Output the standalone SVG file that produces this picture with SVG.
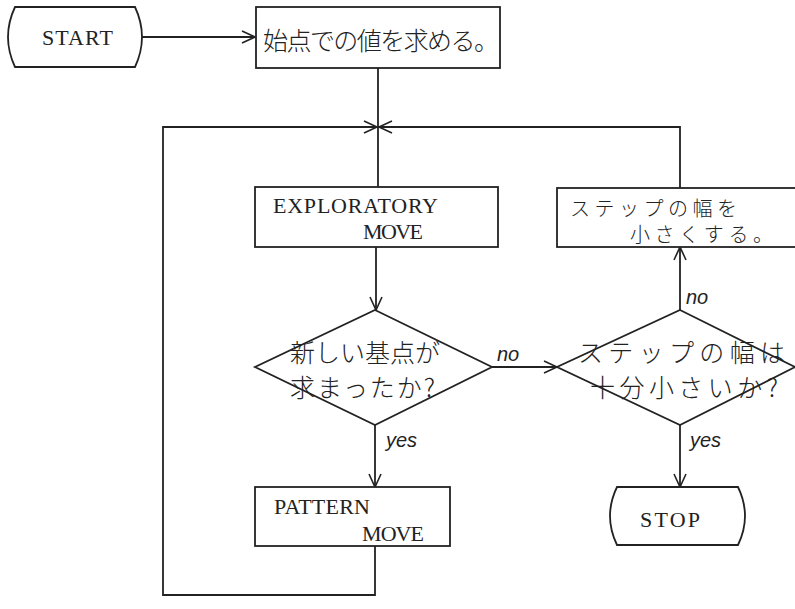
<svg xmlns="http://www.w3.org/2000/svg" width="795" height="609" viewBox="0 0 795 609">
<style>
.s{fill:none;stroke:#222;stroke-width:1.8}
.n{fill:#fff;stroke:#222;stroke-width:1.8}
.t{font-family:"Liberation Serif","DejaVu Serif",serif;font-size:22px;fill:#222}
.j{font-family:"Noto Sans CJK JP",sans-serif;font-size:25px;fill:#222;font-weight:300}
.k{font-family:"Noto Sans CJK JP",sans-serif;font-size:20px;fill:#222;font-weight:300}
.l{font-family:"Liberation Sans",sans-serif;font-style:italic;font-size:20px;fill:#222}
</style>
<defs>
<marker id="a" markerUnits="userSpaceOnUse" markerWidth="16" markerHeight="14" refX="14" refY="7" orient="auto">
<path d="M1,1 L14,7 L1,13" fill="none" stroke="#222" stroke-width="1.6"/>
</marker>
</defs>
<rect width="795" height="609" fill="#fff"/>
<g id="connectors">
<line class="s" x1="142" y1="37" x2="255" y2="37" marker-end="url(#a)"/>
<line class="s" x1="378" y1="68" x2="378" y2="187"/>
<polyline class="s" points="375,546 375,595 163,595 163,127 377,127" marker-end="url(#a)"/>
<polyline class="s" points="680,188 680,127 379,127" marker-end="url(#a)"/>
<line class="s" x1="376" y1="247" x2="376" y2="310" marker-end="url(#a)"/>
<line class="s" x1="375" y1="425" x2="375" y2="487" marker-end="url(#a)"/>
<line class="s" x1="492" y1="367" x2="557" y2="367" marker-end="url(#a)"/>
<line class="s" x1="680" y1="310" x2="680" y2="247" marker-end="url(#a)"/>
<line class="s" x1="680" y1="425" x2="680" y2="487" marker-end="url(#a)"/>
<text class="l" x="497" y="361">no</text>
<text class="l" x="686" y="304">no</text>
<text class="l" x="386" y="447">yes</text>
<text class="l" x="690" y="447">yes</text>
</g>
<g id="start">
<path class="n" d="M15,7 L135,7 Q149,37 135,67 L15,67 Q1,37 15,7 Z"/>
<text class="t" x="42" y="45" textLength="71">START</text>
</g>
<g id="init">
<rect class="n" x="256" y="7" width="244" height="61"/>
<text class="j" x="263" y="50" textLength="236">始点での値を求める。</text>
</g>
<g id="exploratory">
<rect class="n" x="255" y="187" width="243" height="60"/>
<text class="t" x="273" y="213" textLength="165">EXPLORATORY</text>
<text class="t" x="363" y="239" textLength="60">MOVE</text>
</g>
<g id="decision1">
<polygon class="n" points="375,310 492,367 375,425 255,367"/>
<text class="j" x="290" y="362" textLength="150">新しい基点が</text>
<text class="j" x="290" y="397" textLength="145">求まったか?</text>
</g>
<g id="pattern">
<rect class="n" x="255" y="487" width="195" height="59"/>
<text class="t" x="274" y="514" textLength="96">PATTERN</text>
<text class="t" x="362" y="541" textLength="62">MOVE</text>
</g>
<g id="decision2">
<polygon class="n" points="680,310 795,367 680,425 557,367"/>
<text class="j" x="578" y="362" textLength="207">ステップの幅は</text>
<text class="j" x="590" y="397" textLength="188">十分小さいか?</text>
</g>
<g id="shrink">
<rect class="n" x="557" y="188" width="240" height="59"/>
<text class="k" x="570" y="216" textLength="167">ステップの幅を</text>
<text class="k" x="630" y="242" textLength="143">小さくする。</text>
</g>
<g id="stop">
<path class="n" d="M617,487 L738,487 Q752,516 738,545 L617,545 Q603,516 617,487 Z"/>
<text class="t" x="640" y="527" textLength="60">STOP</text>
</g>
</svg>
